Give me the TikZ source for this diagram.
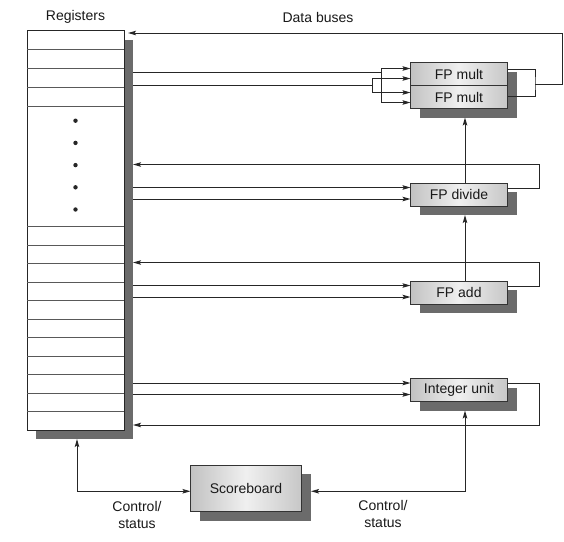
\documentclass[tikz,border=0pt]{standalone}
\usepackage{fontspec}
\setmainfont{Liberation Sans}
\usepackage{tikz}
\usetikzlibrary{positioning,arrows.meta,calc,shadows}
\newcommand{\unitfont}{\fontsize{14}{17}\selectfont}
\tikzset{
  >={Stealth[length=8pt,width=4.5pt,inset=1.5pt]},
  darkshadow/.style={drop shadow={shadow xshift=9pt,shadow yshift=-9pt,fill=black!58,opacity=1}},
  fu/.style={draw=black!80,line width=1pt,left color=black!24,right color=black!22,middle color=black!6,
    minimum width=97pt,minimum height=23pt,inner sep=0pt,outer sep=0pt,darkshadow},
  regbox/.style={draw=black!85,line width=1pt,fill=white,minimum width=97pt,minimum height=399.5pt,
    inner sep=0pt,outer sep=0pt,darkshadow},
  tag/.style={inner sep=0pt,align=center},
}

\begin{document}
\begin{tikzpicture}[x=1pt,y=-1pt,line width=1pt,color=black!85,
  every node/.style={font=\unitfont,text=black!90}]
\path[use as bounding box,fill=white] (0,0) rectangle (564,541);

% register file
\node[regbox] (regs) at (75.5,230.25) {};
\foreach \k in {1,...,4}
  \draw[black!65,line width=.9pt] (regs.north west) ++(0,19*\k) -- ++(97,0);
\foreach \k in {1,...,11}
  \draw[black!65,line width=.9pt] (regs.south west) ++(0,-18.5*\k) -- ++(97,0);
\foreach \k in {0,...,4}
  \fill[black!85] (regs.north) ++(0,90.2+22.2*\k) circle (2.2pt);
\node[tag,above=6.5pt of regs] (reglabel) {Registers};
\node[tag] (busname) at (318,17) {Data buses};
\coordinate (rbus) at ([xshift=9pt]regs.east);

% functional units
\node[fu] (mult1) at (459,74) {FP mult};
\node[fu,below=0pt of mult1] (mult2) {FP mult};
\node[fu] (div) at (459,194.5) {FP divide};
\node[fu] (add) at (459,292.5) {FP add};
\node[fu] (intu) at (459,390) {Integer unit};
\node[fu,minimum width=111pt,minimum height=46.5pt] (score) at (246,488.25) {Scoreboard};
\node[tag] (ctl-l) at ([xshift=-53.5pt,yshift=-26.5pt]score.west) {Control/\\status};
\node[tag] (ctl-r) at ([xshift=81.5pt,yshift=-26pt]score.east) {Control/\\status};

% buses to the two multipliers
\coordinate (m1a) at ([yshift=5.5pt]mult1.west);
\coordinate (m1b) at ([yshift=-4.5pt]mult1.west);
\coordinate (m2a) at ([yshift=4.5pt]mult2.west);
\coordinate (m2b) at ([yshift=-5.5pt]mult2.west);
\coordinate (ja) at ([xshift=-29pt,yshift=1.5pt]mult1.west);
\coordinate (jb) at ([xshift=-38pt]mult1.south west);
\draw (rbus |- ja) -- (ja);
\draw (rbus |- jb) -- (jb);
\draw[->] (ja) |- (m1a);
\draw[->] (ja) |- (m2b);
\draw[->] (jb) |- (m1b);
\draw[->] (jb) |- (m2a);
\coordinate (mj) at ([xshift=27.5pt,yshift=1.5pt]mult1.south east);
\draw ([yshift=5pt]mult1.east) -| (mj) |- ([yshift=1pt]mult2.east);
\draw[->] (mj) -- ++(27,0) |- ([xshift=4pt,yshift=-2.5pt]regs.north east);

% buses to the other units
\foreach \u/\r in {div/30,add/30,intu/-35} {
  \coordinate (\u-a) at ([yshift=7pt]\u.west);
  \coordinate (\u-b) at ([yshift=-4.5pt]\u.west);
  \coordinate (\u-r) at ([xshift=32pt,yshift=\r pt]\u.east);
  \draw[->] (rbus |- \u-a) -- (\u-a);
  \draw[->] (rbus |- \u-b) -- (\u-b);
  \draw[->] ([yshift=6.5pt]\u.east) -| (\u-r) -- (rbus |- \u-r);
}

% control
\draw[->] ([xshift=6pt]div.north) -- ([xshift=6pt,yshift=-9pt]mult2.south);
\draw[->] ([xshift=6pt]add.north) -- ([xshift=6pt,yshift=-9pt]div.south);
\draw[<->] ([xshift=6pt,yshift=-9pt]intu.south) |- ([xshift=9.5pt,yshift=-3pt]score.east);
\draw[<->] ([xshift=1.5pt,yshift=-9pt]regs.south) |- ([yshift=-3pt]score.west);
\end{tikzpicture}
\end{document}
